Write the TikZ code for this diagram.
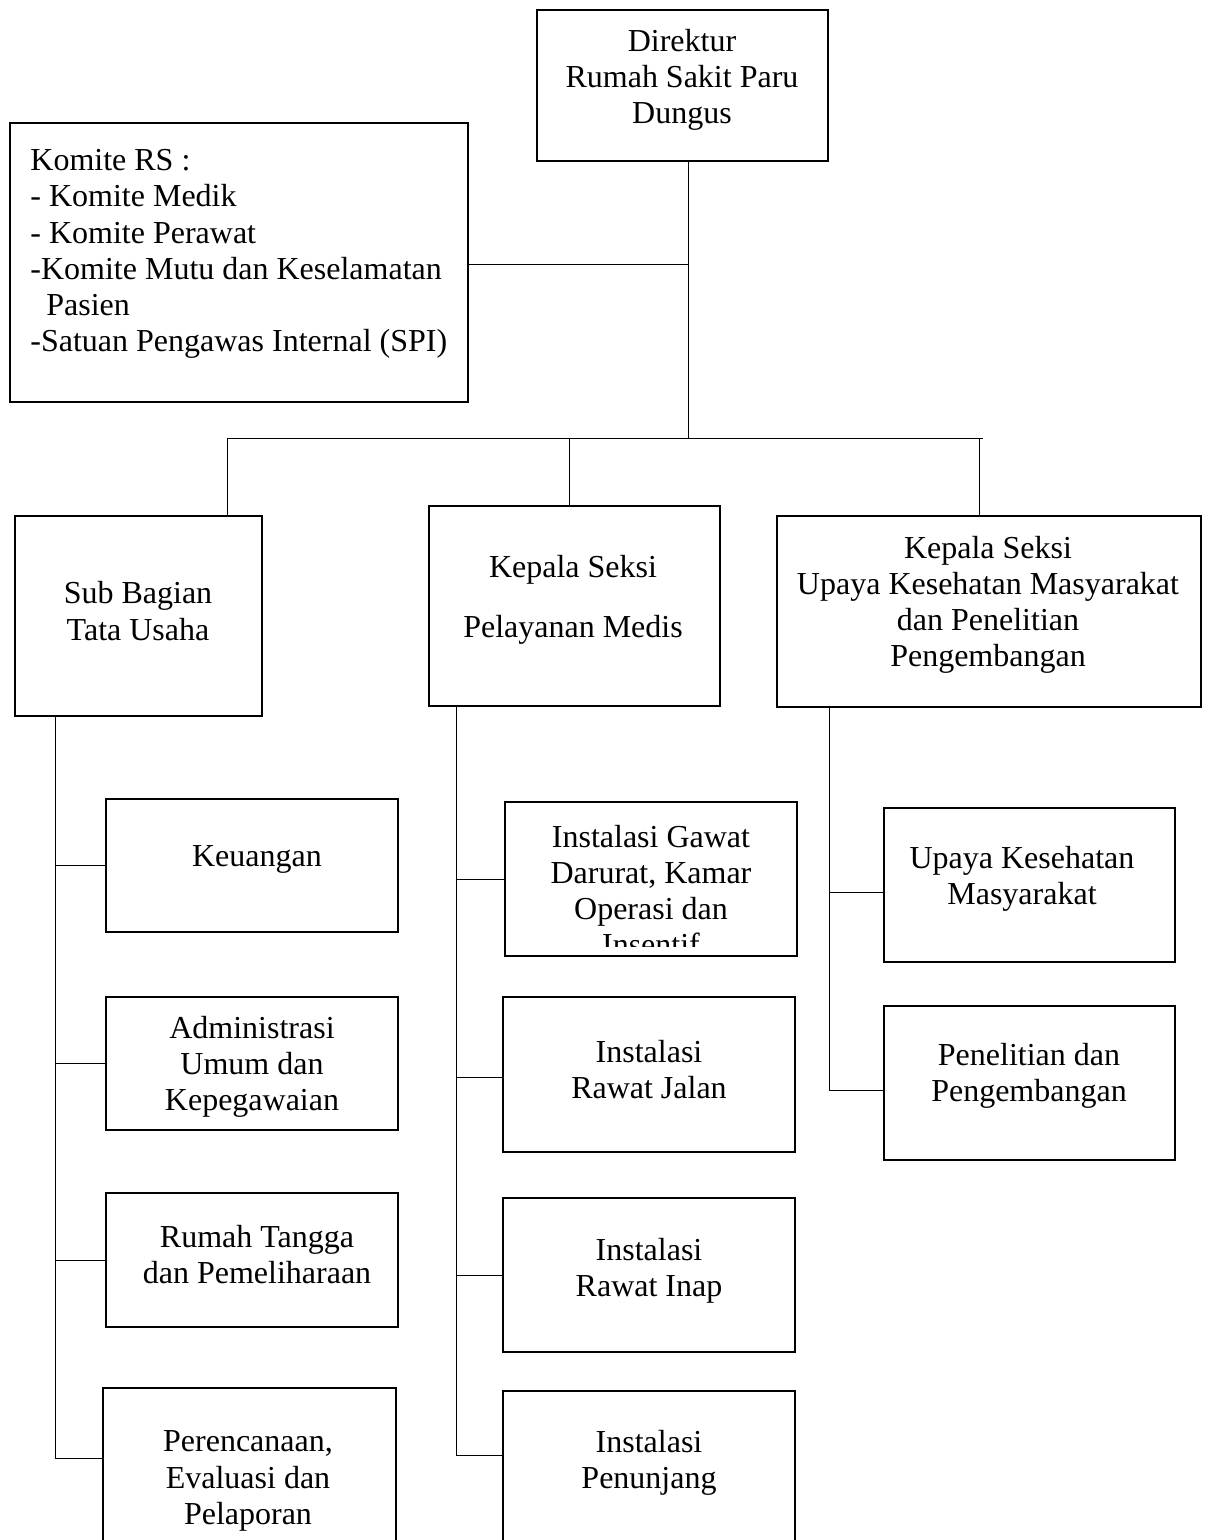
\documentclass[tikz,border=0pt]{standalone}
\usepackage{fontspec}
\setmainfont{Liberation Serif}
\usetikzlibrary{positioning}

\tikzset{
    box/.style={rectangle,draw,line width=1pt,inner sep=0,minimum width=146pt,minimum height=77pt},
    txt/.style={inner sep=0,align=center,yshift=-1.5pt,font=\fontsize{16}{18.1}\selectfont},
    conn/.style={line width=0.5pt}
    }

\begin{document}
\begin{tikzpicture}[x=0.5pt,y=-0.5pt]
                \clip (0,0) rectangle (1208,1540);
                % Top
                \node[box, minimum width=145.5pt, minimum height=75.5pt] (dir) at (682.5,85.5) {};
                \node[txt] (dir-t) at (682,77) {Direktur\\Rumah Sakit Paru\\Dungus};
                \node[box, minimum width=229pt, minimum height=139.5pt] (kom) at (239,262.5) {};
                \node[txt, align=left, anchor=west] (kom-t) at (30,251) {Komite RS :\\- Komite Medik\\- Komite Perawat\\-Komite Mutu dan Keselamatan\\\hspace*{8pt}Pasien\\-Satuan Pengawas Internal (SPI)};
                % Heads
                \node[box, minimum width=123.5pt, minimum height=100pt] (sub) at (138.5,616) {};
                \node[txt] (sub-t) at (138,608) {Sub Bagian\\Tata Usaha};
                \node[box, minimum width=145.5pt, minimum height=100pt] (pel) at (574.5,606) {};
                \node[txt] (pel-t) at (573,597) {Kepala Seksi\\[11.8pt]Pelayanan Medis};
                \node[box, minimum width=212pt, minimum height=95.5pt] (ukmh) at (989,611.5) {};
                \node[txt] (ukmh-t) at (988,602) {Kepala Seksi\\Upaya Kesehatan Masyarakat\\dan Penelitian\\Pengembangan};
                % Tata Usaha
                \node[box, minimum height=66.5pt] (keu) at (252,865.5) {};
                \node[txt] (keu-t) at (257,856) {Keuangan};
                \node[box, minimum height=66.5pt] (adm) at (252,1063.5) {};
                \node[txt] (adm-t) at (252,1064) {Administrasi\\Umum dan\\Kepegawaian};
                \node[box, minimum height=67pt] (rt) at (252,1260) {};
                \node[txt] (rt-t) at (257,1251.5) {Rumah Tangga\\dan Pemeliharaan};
                \node[box, minimum width=146.5pt, minimum height=78.5pt] (per) at (249.5,1466.5) {};
                \node[txt] (per-t) at (248,1478) {Perencanaan,\\Evaluasi dan\\Pelaporan};
                % Pelayanan Medis
                \node[box] (igd) at (651,879) {};
                \begin{scope}
                    \clip (505,802) rectangle (797,946);
                    \node[txt] (igd-t) at (651,887.5) {Instalasi Gawat\\Darurat, Kamar\\Operasi dan\\Insentif};
                \end{scope}
                \node[box, minimum height=77.5pt] (rj) at (649,1074.5) {};
                \node[txt] (rj-t) at (649,1066.5) {Instalasi\\Rawat Jalan};
                \node[box] (ri) at (649,1275) {};
                \node[txt] (ri-t) at (649,1267.5) {Instalasi\\Rawat Inap};
                \node[box] (pen) at (649,1468) {};
                \node[txt] (pen-t) at (649,1459.5) {Instalasi\\Penunjang};
                % UKM
                \node[box, minimum width=145.5pt] (ukm) at (1029.5,885) {};
                \node[txt] (ukm-t) at (1022,875.5) {Upaya Kesehatan\\Masyarakat};
                \node[box, minimum width=145.5pt] (pp) at (1029.5,1083) {};
                \node[txt] (pp-t) at (1029,1072.5) {Penelitian dan\\Pengembangan};

                % Lines
                \coordinate (bus) at (688,438);
                \coordinate (d1) at (227,438);
                \coordinate (d2) at (569,438);
                \coordinate (d3) at (979,438);
                \coordinate (busend) at (983,438);
                \draw[conn] (dir.south -| bus) -- (bus);
                \draw[conn] ([yshift=-1pt]kom.east) -- ([yshift=-1pt]kom.east -| bus);
                \draw[conn] (d1) -- (busend);
                \draw[conn] (d1) -- (d1 |- sub.north);
                \draw[conn] (d2) -- (d2 |- pel.north);
                \draw[conn] (d3) -- (d3 |- ukmh.north);

                \coordinate (lt) at (55,716);
                \draw[conn] (lt) |- ([yshift=4pt]per.west);
                \foreach \b in {keu,adm,rt}
                    \draw[conn] (lt |- \b.west) -- (\b.west);

                \coordinate (mt) at (456,706);
                \draw[conn] (mt) |- ([yshift=6.5pt]pen.west);
                \draw[conn] (mt |- igd.west) -- (igd.west);
                \draw[conn] ([yshift=-1.5pt]mt |- rj.west) -- ([yshift=-1.5pt]rj.west);
                \draw[conn] (mt |- ri.west) -- (ri.west);

                \coordinate (rt0) at (829,707);
                \draw[conn] (rt0) |- ([yshift=-3.5pt]pp.west);
                \draw[conn] ([yshift=-3.5pt]rt0 |- ukm.west) -- ([yshift=-3.5pt]ukm.west);
            \end{tikzpicture}
\end{document}
